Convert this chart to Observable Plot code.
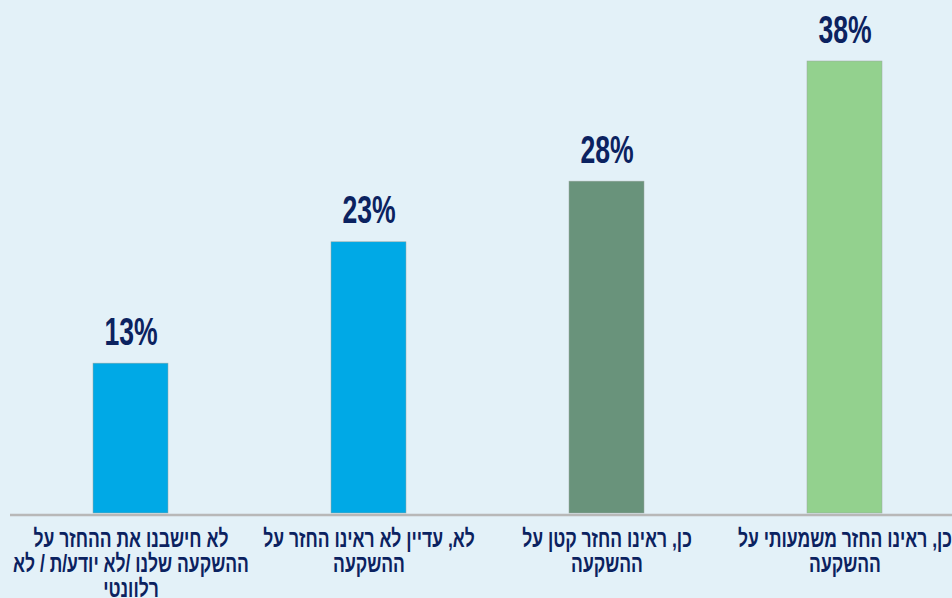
<!DOCTYPE html>
<html>
<head>
<meta charset="utf-8">
<script src="https://cdn.jsdelivr.net/npm/d3@7"></script>
<script src="https://cdn.jsdelivr.net/npm/@observablehq/plot@0.6"></script>
<style>
  html, body { margin: 0; padding: 0; background: #e3f1f8; }
  #chart svg { display: block; }
</style>
</head>
<body>
<div id="chart"></div>
<script>
const categories = [
  "לא חישבנו את ההחזר על\nההשקעה שלנו /לא יודע/ת / לא\nרלוונטי",
  "לא, עדיין לא ראינו החזר על\nההשקעה",
  "כן, ראינו החזר קטן על\nההשקעה",
  "כן, ראינו החזר משמעותי על\nההשקעה"
];
const values = [12.6, 22.8, 27.9, 38.0];
const valueLabels = ["13%", "23%", "28%", "38%"];
const colors = ["#00a9e6", "#00a9e6", "#69937b", "#93d18e"];

const data = categories.map((c, i) => ({category: c, value: values[i], label: valueLabels[i], color: colors[i]}));

const chart = Plot.plot({
  width: 952,
  height: 598,
  marginLeft: 10,
  marginRight: 0,
  marginTop: 0,
  marginBottom: 0,
  style: {background: "#e3f1f8", fontFamily: "'Liberation Sans', Arial, sans-serif"},
  x: {domain: categories, range: [10, 964], paddingInner: 0.686, paddingOuter: 0.343, axis: null},
  y: {domain: [0, 38], range: [513, 61], axis: null},
  color: {type: "identity"},
  marks: [
    Plot.barY(data, {x: "category", y: "value", fill: "color", stroke: "#9aa7a0", strokeWidth: 0.5}),
    Plot.ruleY([0], {stroke: "#b8b8b8", strokeWidth: 2.5, dy: 1.5}),
    Plot.text(data, {x: "category", y: "value", text: "label", dy: -19, lineAnchor: "bottom",
      fill: "#0b2260", fontSize: 38, fontWeight: "bold", className: "vlabel"}),
    Plot.text(data, {x: "category", y: 0, text: "category", dy: 16, lineAnchor: "top",
      fill: "#0b2260", fontSize: 24, fontWeight: "bold", lineHeight: 1.04, className: "clabel"})
  ]
});
document.getElementById("chart").appendChild(chart);

function squeeze(selector, s) {
  chart.querySelectorAll(selector + " text").forEach(t => {
    const tr = t.getAttribute("transform") || "";
    t.setAttribute("transform", tr + ` scale(${s},1)`);
  });
}
squeeze(".vlabel", 0.7);
squeeze(".clabel", 0.73);
</script>
</body>
</html>
